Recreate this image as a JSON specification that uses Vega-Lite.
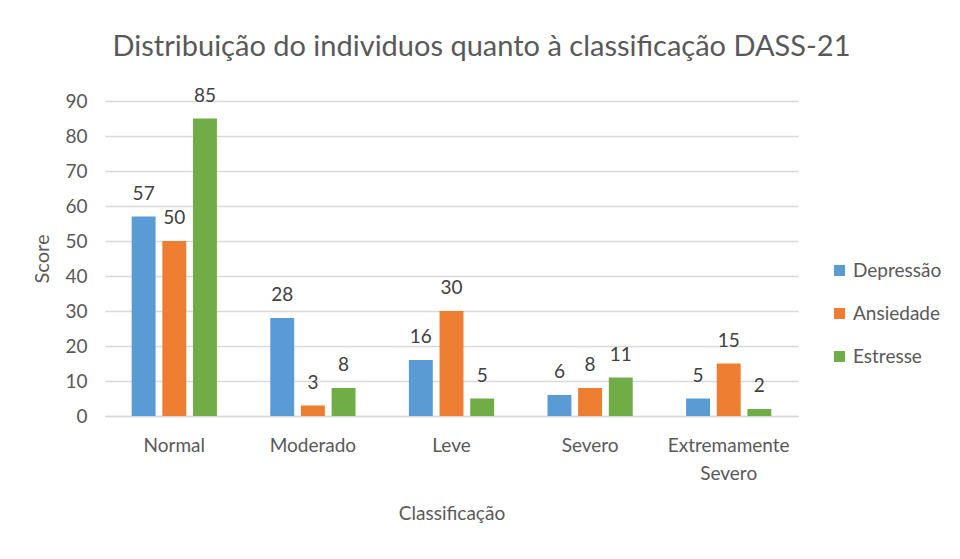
{
  "$schema": "https://vega.github.io/schema/vega-lite/v6.json",
  "autosize": {"type": "none"},
  "padding": {"left": 105, "top": 101, "right": 162, "bottom": 143},
  "width": 693,
  "height": 315,
  "background": "white",
  "config": {
    "font": "Lato",
    "view": {"stroke": null},
    "axis": {"labelColor": "#595959", "titleColor": "#595959", "titleFontWeight": "normal"}
  },
  "title": {
    "text": "Distribuição do individuos quanto à classificação DASS-21",
    "fontSize": 29,
    "fontWeight": "normal",
    "color": "#595959",
    "anchor": "middle",
    "dx": 30,
    "offset": 25
  },
  "data": {
    "values": [
      {"classificacao": "Normal", "serie": "Depressão", "score": 57},
      {"classificacao": "Normal", "serie": "Ansiedade", "score": 50},
      {"classificacao": "Normal", "serie": "Estresse", "score": 85},
      {"classificacao": "Moderado", "serie": "Depressão", "score": 28},
      {"classificacao": "Moderado", "serie": "Ansiedade", "score": 3},
      {"classificacao": "Moderado", "serie": "Estresse", "score": 8},
      {"classificacao": "Leve", "serie": "Depressão", "score": 16},
      {"classificacao": "Leve", "serie": "Ansiedade", "score": 30},
      {"classificacao": "Leve", "serie": "Estresse", "score": 5},
      {"classificacao": "Severo", "serie": "Depressão", "score": 6},
      {"classificacao": "Severo", "serie": "Ansiedade", "score": 8},
      {"classificacao": "Severo", "serie": "Estresse", "score": 11},
      {"classificacao": "Extremamente Severo", "serie": "Depressão", "score": 5},
      {"classificacao": "Extremamente Severo", "serie": "Ansiedade", "score": 15},
      {"classificacao": "Extremamente Severo", "serie": "Estresse", "score": 2}
    ]
  },
  "encoding": {
    "x": {
      "field": "classificacao",
      "type": "nominal",
      "sort": null,
      "title": "Classificação",
      "scale": {"paddingInner": 0, "paddingOuter": 0},
      "axis": {
        "labelAngle": 0,
        "labelFontSize": 19,
        "labelPadding": 20,
        "labelLineHeight": 28,
        "labelExpr": "datum.label == 'Extremamente Severo' ? ['Extremamente', 'Severo'] : datum.label",
        "ticks": false,
        "domainColor": "#D9D9D9",
        "domainWidth": 1.5,
        "titleFontSize": 19,
        "titlePadding": 21
      }
    },
    "xOffset": {
      "field": "serie",
      "type": "nominal",
      "sort": ["Depressão", "Ansiedade", "Estresse"],
      "scale": {"paddingInner": 0.22, "paddingOuter": 0.87}
    },
    "y": {
      "field": "score",
      "type": "quantitative",
      "title": "Score",
      "scale": {"domain": [0, 90]},
      "axis": {
        "values": [0, 10, 20, 30, 40, 50, 60, 70, 80, 90],
        "labelFontSize": 19,
        "labelPadding": 18,
        "ticks": false,
        "domain": false,
        "gridColor": "#D9D9D9",
        "gridWidth": 1.5,
        "titleFontSize": 20,
        "titlePadding": 12
      }
    }
  },
  "layer": [
    {
      "mark": {"type": "bar"},
      "encoding": {
        "color": {
          "field": "serie",
          "type": "nominal",
          "sort": ["Depressão", "Ansiedade", "Estresse"],
          "scale": {"domain": ["Depressão", "Ansiedade", "Estresse"], "range": ["#5B9BD5", "#ED7D31", "#70AD47"]},
          "legend": {
            "title": null,
            "orient": "none",
            "legendX": 725,
            "legendY": 160,
            "symbolType": "square",
            "symbolSize": 120,
            "symbolStrokeWidth": 0,
            "labelFontSize": 19,
            "labelColor": "#595959",
            "labelOffset": 4,
            "rowPadding": 23
          }
        }
      }
    },
    {
      "mark": {"type": "text", "baseline": "alphabetic", "dy": -17, "fontSize": 19, "color": "#404040"},
      "encoding": {
        "text": {"field": "score", "type": "quantitative"}
      }
    }
  ]
}
